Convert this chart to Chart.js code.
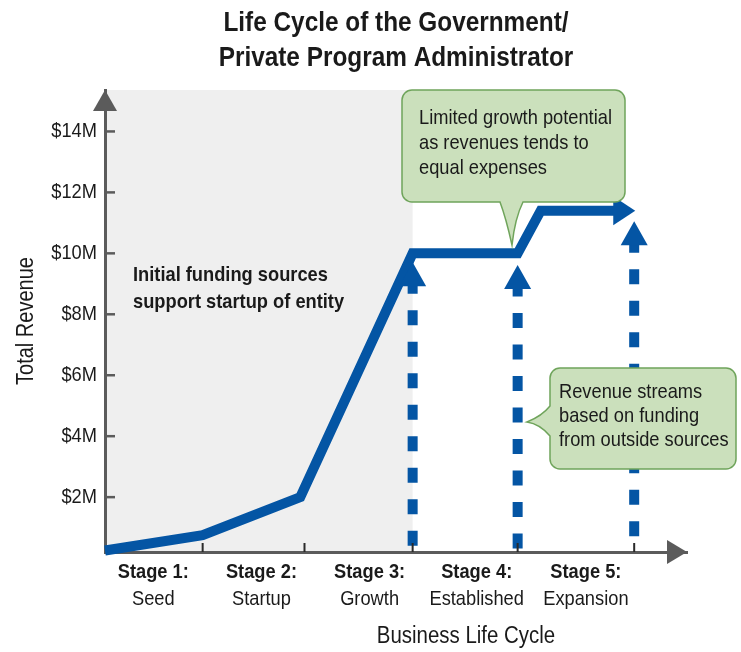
<!DOCTYPE html>
<html><head><meta charset="utf-8">
<script src="https://cdn.jsdelivr.net/npm/chart.js@4.4.1/dist/chart.umd.min.js"></script>
<style>html,body{margin:0;padding:0;background:#fff;} #wrap{width:741px;height:652px;}</style>
</head><body><div id="wrap"><canvas id="c" width="741" height="652"></canvas></div>
<script>
// ---- data ----
const titleLines = ['Life Cycle of the Government/', 'Private Program Administrator'];
const yAxisTitle = 'Total Revenue';
const xAxisTitle = 'Business Life Cycle';
const stageNames = ['Stage 1:', 'Stage 2:', 'Stage 3:', 'Stage 4:', 'Stage 5:'];
const stageSubtitles = ['Seed', 'Startup', 'Growth', 'Established', 'Expansion'];
const stageLabelPos = [0.46, 1.49, 2.52, 3.54, 4.58];
const stageTickPos = [0.93, 1.90, 2.93, 3.93, 5.04];
const yTickValues = [2, 4, 6, 8, 10, 12, 14];
const yTickLabels = ['$2M', '$4M', '$6M', '$8M', '$10M', '$12M', '$14M'];
const revenueX = [0, 0.93, 1.86, 2.93, 3.93, 4.15, 5.05];
const revenueY = [0.25, 0.75, 2.0, 10.0, 10.0, 11.4, 11.4];
const fundingArrowX = [2.93, 3.93, 5.04];
const fundingArrowTop = [9.71, 9.62, 11.05];
const shadedUntil = 2.93;
const calloutGrowth = ['Limited growth potential', 'as revenues tends to', 'equal expenses'];
const calloutFunding = ['Revenue streams', 'based on funding', 'from outside sources'];
const noteInitial = ['Initial funding sources', 'support startup of entity'];
const X_MIN = 0, X_MAX = 5.543, Y_MIN = 0.2, Y_MAX = 15.36;

// ---- styles ----
const FONT = "'Liberation Sans', Arial, sans-serif";
const CONDENSE = 0.87; // narrow (Arial Narrow-like) lettering
const BLUE = '#0455a4';
const AXIS = '#5b5b5b';
const SHADE = '#efefef';
const GREEN_FILL = '#cbe0bc';
const GREEN_LINE = '#6fa45b';
const TEXT = '#1a1a1a';
Chart.defaults.font.family = FONT;
Chart.defaults.color = TEXT;

// condensed text rendering on this canvas
const canvas = document.getElementById('c');
const cx = canvas.getContext('2d');
const _fill = cx.fillText.bind(cx);
const _measure = cx.measureText.bind(cx);
cx.fillText = function (t, x, y) { this.save(); this.translate(x, y); this.scale(CONDENSE, 1); _fill(t, 0, 0); this.restore(); };
cx.measureText = function (t) { const m = _measure(t); return {width: m.width * CONDENSE, actualBoundingBoxAscent: m.actualBoundingBoxAscent, actualBoundingBoxDescent: m.actualBoundingBoxDescent}; };

const datasets = [{
  label: 'Total revenue',
  data: revenueX.map((x, i) => ({x, y: revenueY[i]})),
  borderColor: BLUE, borderWidth: 10, pointRadius: 0, tension: 0,
  borderJoinStyle: 'miter', borderCapStyle: 'butt', clip: false, fill: false
}];
fundingArrowX.forEach((x, i) => datasets.push({
  label: 'Outside funding ' + (i + 1),
  data: [{x, y: fundingArrowTop[i]}, {x, y: Y_MIN}],
  borderColor: BLUE, borderWidth: 10, borderDash: [15, 16.5], borderDashOffset: 15,
  borderCapStyle: 'butt', pointRadius: 0, clip: false, fill: false
}));

function tri(ctx, pts, color) {
  ctx.beginPath(); ctx.moveTo(pts[0][0], pts[0][1]);
  for (let i = 1; i < pts.length; i++) ctx.lineTo(pts[i][0], pts[i][1]);
  ctx.closePath(); ctx.fillStyle = color; ctx.fill();
}
function lines(ctx, arr, x, y0, step, font, align) {
  ctx.font = font; ctx.fillStyle = TEXT; ctx.textAlign = align || 'left'; ctx.textBaseline = 'middle';
  arr.forEach((t, i) => ctx.fillText(t, x, y0 + i * step));
}

const deco = {
  id: 'deco',
  beforeDraw(chart) {
    const {ctx, chartArea: a, scales: {x}} = chart;
    ctx.save(); ctx.fillStyle = SHADE;
    ctx.fillRect(a.left, a.top, x.getPixelForValue(shadedUntil) - a.left, a.bottom - a.top);
    ctx.restore();
  },
  beforeDatasetDraw(chart, args) {
    if (args.index !== 0) return;
    const {ctx, scales: {x, y}} = chart;
    const n = revenueX.length - 1;
    const tx = x.getPixelForValue(revenueX[n]), ty = y.getPixelForValue(revenueY[n]);
    ctx.save(); ctx.beginPath();
    ctx.rect(0, 0, chart.width, chart.height);
    ctx.rect(tx - 12, ty - 7, 40, 14);
    ctx.clip('evenodd');
  },
  afterDatasetDraw(chart, args) { if (args.index === 0) chart.ctx.restore(); },
  afterDatasetsDraw(chart) {
    const {ctx, chartArea: a, scales: {x, y}} = chart;
    ctx.save();
    ctx.strokeStyle = AXIS; ctx.lineWidth = 2.5;
    yTickValues.forEach(v => { const py = y.getPixelForValue(v); ctx.beginPath(); ctx.moveTo(a.left, py); ctx.lineTo(a.left + 10, py); ctx.stroke(); });
    ctx.strokeStyle = '#2a2a2a'; ctx.lineWidth = 2;
    stageTickPos.forEach(v => { const px = x.getPixelForValue(v); ctx.beginPath(); ctx.moveTo(px, a.bottom - 9); ctx.lineTo(px, a.bottom); ctx.stroke(); });
    tri(ctx, [[a.left, a.top], [a.left - 12, a.top + 21], [a.left + 12, a.top + 21]], AXIS);
    tri(ctx, [[a.right, a.bottom], [a.right - 20, a.bottom - 12], [a.right - 20, a.bottom + 12]], AXIS);
    const n = revenueX.length - 1;
    const tx = x.getPixelForValue(revenueX[n]), ty = y.getPixelForValue(revenueY[n]);
    tri(ctx, [[tx, ty], [tx - 22, ty - 14.5], [tx - 22, ty + 14.5]], BLUE);
    fundingArrowX.forEach((v, i) => {
      const px = x.getPixelForValue(v), py = y.getPixelForValue(fundingArrowTop[i]);
      tri(ctx, [[px, py], [px - 13.5, py + 24], [px + 13.5, py + 24]], BLUE);
    });
    ctx.restore();
  },
  afterDraw(chart) {
    const {ctx} = chart;
    ctx.save();
    const r = 10;
    // callout 1 (tail pointing down)
    const L1 = 402, T1 = 90, R1 = 625, B1 = 202;
    ctx.beginPath();
    ctx.moveTo(L1 + r, T1); ctx.lineTo(R1 - r, T1); ctx.arcTo(R1, T1, R1, T1 + r, r);
    ctx.lineTo(R1, B1 - r); ctx.arcTo(R1, B1, R1 - r, B1, r);
    ctx.lineTo(523, B1); ctx.quadraticCurveTo(515, 218, 512, 245); ctx.quadraticCurveTo(506, 218, 500, B1);
    ctx.lineTo(L1 + r, B1); ctx.arcTo(L1, B1, L1, B1 - r, r);
    ctx.lineTo(L1, T1 + r); ctx.arcTo(L1, T1, L1 + r, T1, r); ctx.closePath();
    ctx.fillStyle = GREEN_FILL; ctx.fill(); ctx.strokeStyle = GREEN_LINE; ctx.lineWidth = 1.5; ctx.stroke();
    // callout 2 (tail pointing left)
    const L2 = 550, T2 = 368, R2 = 736, B2 = 469;
    ctx.beginPath();
    ctx.moveTo(L2 + r, T2); ctx.lineTo(R2 - r, T2); ctx.arcTo(R2, T2, R2, T2 + r, r);
    ctx.lineTo(R2, B2 - r); ctx.arcTo(R2, B2, R2 - r, B2, r);
    ctx.lineTo(L2 + r, B2); ctx.arcTo(L2, B2, L2, B2 - r, r);
    ctx.lineTo(L2, 436); ctx.quadraticCurveTo(540, 424, 527, 422); ctx.quadraticCurveTo(542, 416, L2, 406);
    ctx.lineTo(L2, T2 + r); ctx.arcTo(L2, T2, L2 + r, T2, r); ctx.closePath();
    ctx.fillStyle = GREEN_FILL; ctx.fill(); ctx.strokeStyle = GREEN_LINE; ctx.lineWidth = 1.5; ctx.stroke();
    lines(ctx, calloutGrowth, 419, 118, 25, '21px ' + FONT);
    lines(ctx, calloutFunding, 559, 392, 24, '21px ' + FONT);
    lines(ctx, noteInitial, 133, 275, 27, 'bold 21px ' + FONT);
    lines(ctx, [xAxisTitle], 466, 637, 0, '23.5px ' + FONT, 'center');
    ctx.restore();
  }
};

new Chart(canvas, {
  type: 'line',
  data: {datasets},
  plugins: [deco],
  options: {
    responsive: false, animation: false,
    layout: {padding: {left: 0, right: 54, top: 0, bottom: 0}},
    plugins: {
      legend: {display: false}, tooltip: {enabled: false},
      title: {display: true, fullSize: false, text: titleLines, color: TEXT, font: {size: 28, weight: 'bold', lineHeight: 1.25}, padding: {top: 6, bottom: 14}}
    },
    scales: {
      x: {
        type: 'linear', min: X_MIN, max: X_MAX, position: 'bottom',
        afterFit: s => { s.height = 30; },
        afterBuildTicks: s => { s.ticks = stageLabelPos.map(v => ({value: v})); },
        ticks: {autoSkip: false, maxRotation: 0, padding: 8, font: {size: 21, weight: 'bold'}, color: TEXT,
          callback: (v, i) => stageNames[i]},
        grid: {display: false, drawTicks: false},
        border: {display: true, color: AXIS, width: 3}
      },
      x2: {
        type: 'linear', min: X_MIN, max: X_MAX, position: 'bottom',
        afterFit: s => { s.height = 70; },
        afterBuildTicks: s => { s.ticks = stageLabelPos.map(v => ({value: v})); },
        ticks: {autoSkip: false, maxRotation: 0, padding: 5, font: {size: 21}, color: TEXT,
          callback: (v, i) => stageSubtitles[i]},
        grid: {display: false, drawTicks: false},
        border: {display: false}
      },
      y: {
        type: 'linear', min: Y_MIN, max: Y_MAX,
        afterFit: s => { s.width = 105; },
        afterBuildTicks: s => { s.ticks = yTickValues.map(v => ({value: v})); },
        ticks: {autoSkip: false, padding: 8, font: {size: 21}, color: TEXT,
          callback: (v) => yTickLabels[yTickValues.indexOf(v)]},
        grid: {display: false, drawTicks: false},
        border: {display: true, color: AXIS, width: 3},
        title: {display: true, text: yAxisTitle, color: TEXT, font: {size: 23}, padding: {top: 13, bottom: 0}}
      }
    }
  }
});
</script>
</body></html>
